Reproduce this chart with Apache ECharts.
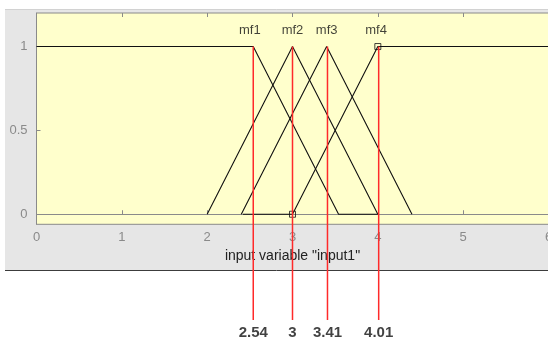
<!DOCTYPE html>
<html>
<head>
<meta charset="utf-8">
<script src="https://cdn.jsdelivr.net/npm/echarts@6/dist/echarts.min.js"></script>
<style>html,body{margin:0;padding:0;background:#fff}#c{width:548px;height:343px}</style>
</head>
<body>
<div id="c"></div>
<script>
// ---- data ----
const xTicks = [0, 1, 2, 3, 4, 5, 6];
const yTicks = [0, 0.5, 1];
const mf1 = [[0, 1], [2.54, 1], [3.54, 0], [4.0, 0]];
const mf2 = [[2, 0], [3, 1], [4, 0]];
const mf3 = [[2.4, 0], [3.4, 1], [4.4, 0]];
const mf4 = [[2.42, 0], [3, 0], [4, 1], [6, 1]];
const mf4Handles = [[3, 0], [4, 1]];
const mfNames = ['mf1', 'mf2', 'mf3', 'mf4'];
const mfLabelX = [2.5, 3.0, 3.4, 3.98];
const cutX = [2.54, 3, 3.41, 4.01];
const cutLabels = ['2.54', '3', '3.41', '4.01'];
const axisTitle = 'input variable "input1"';

// ---- style constants ----
const FONT = 'Liberation Sans, Arial, sans-serif';
const RED_BOTTOM = -0.63;
const black = '#111111';
const red = '#ff2a2a';

const chart = echarts.init(document.getElementById('c'), null, {renderer: 'canvas'});

const series = [];
[mf1, mf2, mf3, mf4].forEach((d, i) => {
  series.push({
    type: 'line', data: d, symbol: 'none', silent: true,
    lineStyle: {color: black, width: 1.1}, z: 3, animation: false
  });
});
series.push({
  type: 'scatter', data: mf4Handles, symbol: 'rect', symbolSize: 6,
  itemStyle: {color: 'rgba(0,0,0,0)', borderColor: black, borderWidth: 1}, z: 4, animation: false
});
series.push({
  type: 'scatter', data: mfLabelX.map((x, i) => ({value: [x, 1], name: mfNames[i]})),
  symbolSize: 0, z: 5, animation: false,
  label: {show: true, position: 'top', distance: 10, formatter: p => p.name,
    color: '#111', fontFamily: FONT, fontSize: 13}
});
cutX.forEach((x, i) => {
  series.push({
    type: 'line', data: [[x, 1], [x, RED_BOTTOM]], symbol: 'none', clip: false,
    lineStyle: {color: red, width: 1.5}, z: 6, animation: false
  });
});
series.push({
  type: 'scatter', clip: false,
  data: cutX.map((x, i) => ({value: [x, RED_BOTTOM], name: cutLabels[i]})),
  symbolSize: 0, z: 7, animation: false,
  label: {show: true, position: 'bottom', distance: 5, formatter: p => p.name,
    color: '#111', fontFamily: FONT, fontSize: 15, fontWeight: 'bold'}
});

chart.setOption({
  animation: false,
  backgroundColor: '#ffffff',
  graphic: [
    {type: 'rect', shape: {x: 5, y: 9, width: 543, height: 261}, style: {fill: '#e6e6e6'}, z: -10, silent: true},
    {type: 'line', shape: {x1: 5, y1: 9.5, x2: 548, y2: 9.5}, style: {stroke: '#d2d2d2', lineWidth: 1}, z: -9, silent: true},
    {type: 'line', shape: {x1: 5, y1: 270.5, x2: 548, y2: 270.5}, style: {stroke: '#3c3c3c', lineWidth: 1}, z: -9, silent: true}
  ],
  grid: {
    left: 36.5, right: -0.5, top: 13, bottom: 118.7,
    show: true, backgroundColor: '#ffffcc', borderColor: '#8a8a8a', borderWidth: 1,
    containLabel: false, outerBoundsMode: 'none'
  },
  xAxis: [
    {
      type: 'value', min: 0, max: 6, interval: 1, position: 'bottom',
      axisLine: {show: true, lineStyle: {color: '#8a8a8a'}},
      axisTick: {show: true, inside: true, length: 4, lineStyle: {color: '#8a8a8a'}},
      axisLabel: {color: '#8a8a8a', fontFamily: FONT, fontSize: 13, margin: 7,
        customValues: xTicks},
      splitLine: {show: false},
      name: axisTitle, nameLocation: 'middle', nameGap: 25,
      nameTextStyle: {color: '#222', fontFamily: FONT, fontSize: 14}
    },
    {
      type: 'value', min: 0, max: 6, interval: 1, position: 'top',
      axisLine: {show: false},
      axisTick: {show: true, inside: true, length: 4, lineStyle: {color: '#8a8a8a'}},
      axisLabel: {show: false}, splitLine: {show: false}
    }
  ],
  yAxis: {
    type: 'value', min: -0.06, max: 1.2,
    axisLine: {show: true, lineStyle: {color: '#8a8a8a'}},
    axisTick: {show: true, inside: true, length: 4, lineStyle: {color: '#8a8a8a'}, customValues: yTicks},
    axisLabel: {color: '#8a8a8a', fontFamily: FONT, fontSize: 13, margin: 9, customValues: yTicks},
    splitLine: {show: false}
  },
  series: series
});
</script>
</body>
</html>
